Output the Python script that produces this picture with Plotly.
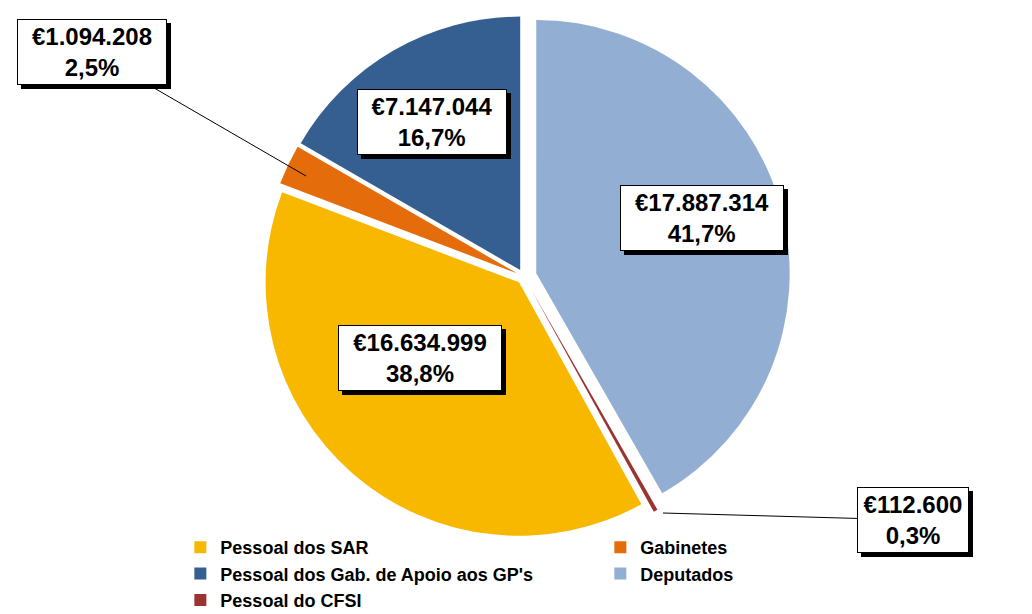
import plotly.graph_objects as go

# ---- data ----
categories = ["Pessoal dos SAR", "Gabinetes", "Pessoal dos Gab. de Apoio aos GP's",
              "Deputados", "Pessoal do CFSI"]
values = [16634999, 1094208, 7147044, 17887314, 112600]
pct_labels = ["38,8%", "2,5%", "16,7%", "41,7%", "0,3%"]
colors = ["#F8B800", "#E46C0A", "#365F91", "#93AED3", "#9A3431"]
pulls = [0.03, 0.03, 0.03, 0.05, 0.06]

total = sum(values)
# first slice (SAR) starts where Deputados + CFSI end, measured clockwise from 12 o'clock
rotation = 360.0 * (values[3] + values[4]) / total

W, H = 1032, 614


def euro(v):
    return "€" + f"{v:,}".replace(",", ".")


label_texts = [f"<b>{euro(v)}<br>{p}</b>" for v, p in zip(values, pct_labels)]

fig = go.Figure(go.Pie(
    labels=categories,
    values=values,
    sort=False,
    direction="clockwise",
    rotation=rotation,
    pull=pulls,
    marker=dict(colors=colors, line=dict(width=0)),
    textinfo="none",
    hoverinfo="label+value+percent",
    domain=dict(x=[0, 1], y=[0.125, 1.0]),
))

# label boxes: (index, box centre px, box width px, anchor point px or None)
boxes = [
    (3, (694, 210), 160, None),
    (2, (424, 114), 146, None),
    (0, (412, 350), 160, None),
    (1, (84, 44), 146, (298, 168)),
    (4, (905, 512), 108, (655, 505)),
]
BOX_H = 62
FS = 24

FONT = "Liberation Sans, Arial, sans-serif"
box_font = dict(family=FONT, size=FS, color="black")
for idx, (bx, by), bw, anchor in boxes:
    txt = label_texts[idx]
    # drop shadow (empty black box of the same size, offset 4 px)
    fig.add_annotation(
        xref="paper", yref="paper", x=bx / W, y=1 - by / H,
        xanchor="center", yanchor="middle",
        xshift=4, yshift=-4, showarrow=False, text="&nbsp;",
        width=bw, height=BOX_H,
        font=dict(family=FONT, size=FS, color="black"),
        bgcolor="black", bordercolor="black", borderwidth=1, borderpad=1,
    )
    if anchor is None:
        fig.add_annotation(
            xref="paper", yref="paper", x=bx / W, y=1 - by / H,
            xanchor="center", yanchor="middle",
            showarrow=False, text=txt, font=box_font,
            width=bw, height=BOX_H,
            bgcolor="white", bordercolor="black", borderwidth=1, borderpad=1,
        )
    else:
        ax_, ay_ = anchor
        fig.add_annotation(
            xref="paper", yref="paper", x=ax_ / W, y=1 - ay_ / H,
            ax=bx - ax_, ay=by - ay_, axref="pixel", ayref="pixel",
            showarrow=True, arrowhead=0, arrowwidth=1, arrowcolor="black",
            text=txt, font=box_font,
            width=bw, height=BOX_H,
            bgcolor="white", bordercolor="black", borderwidth=1, borderpad=1,
        )

fig.update_layout(
    width=W, height=H,
    margin=dict(l=0, r=0, t=0, b=0),
    paper_bgcolor="white",
    plot_bgcolor="white",
    showlegend=True,
    legend=dict(
        orientation="h",
        x=0.167, y=0.005, xanchor="left", yanchor="bottom",
        entrywidth=375, entrywidthmode="pixels",
        font=dict(family=FONT, size=18, color="black", weight="bold"),
        itemwidth=30,
        tracegroupgap=0,
        bgcolor="rgba(0,0,0,0)",
    ),
)

fig.write_html("out.html")
